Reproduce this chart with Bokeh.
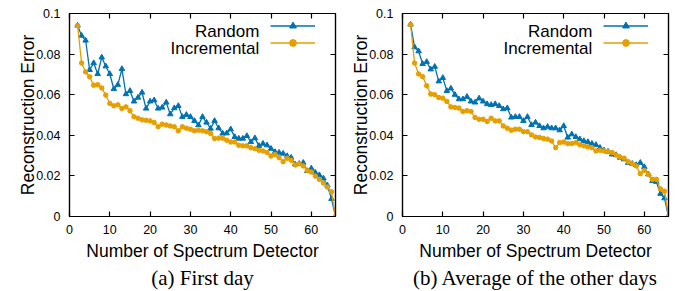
from bokeh.plotting import figure
from bokeh.layouts import row
from bokeh.models import (LinearAxis, FixedTicker, CustomJSTickFormatter, Range1d,
                          Legend, LegendItem, Label, Title)
from bokeh.embed import file_html
from bokeh.resources import INLINE

# ---------------- data ----------------
detectors = list(range(2, 67))

random_first = [0.0941, 0.0891, 0.0867, 0.0722, 0.0756, 0.0702, 0.0784, 0.0740, 0.0702, 0.0628,
                0.0649, 0.0727, 0.0603, 0.0619, 0.0567, 0.0586, 0.0611, 0.0532, 0.0567, 0.0573,
                0.0532, 0.0537, 0.0562, 0.0504, 0.0534, 0.0545, 0.0491, 0.0501, 0.0491, 0.0471,
                0.0450, 0.0491, 0.0463, 0.0433, 0.0471, 0.0435, 0.0409, 0.0410, 0.0430, 0.0392,
                0.0384, 0.0384, 0.0397, 0.0367, 0.0386, 0.0348, 0.0359, 0.0351, 0.0334, 0.0318,
                0.0315, 0.0310, 0.0298, 0.0290, 0.0257, 0.0260, 0.0265, 0.0224, 0.0237, 0.0216,
                0.0204, 0.0188, 0.0153, 0.0087, 0.0]

incremental_first = [0.0941, 0.0756, 0.0712, 0.0688, 0.0647, 0.0649, 0.0633, 0.0598, 0.0557, 0.0545,
                     0.0550, 0.0532, 0.0540, 0.0521, 0.0491, 0.0484, 0.0476, 0.0474, 0.0471, 0.0463,
                     0.0442, 0.0455, 0.0451, 0.0446, 0.0442, 0.0422, 0.0442, 0.0435, 0.0430, 0.0422,
                     0.0425, 0.0422, 0.0418, 0.0409, 0.0384, 0.0386, 0.0386, 0.0376, 0.0367, 0.0367,
                     0.0351, 0.0348, 0.0348, 0.0339, 0.0334, 0.0326, 0.0323, 0.0315, 0.0298, 0.0306,
                     0.0290, 0.0270, 0.0287, 0.0277, 0.0254, 0.0260, 0.0249, 0.0227, 0.0219, 0.0199,
                     0.0183, 0.0165, 0.0145, 0.0122, 0.0]

random_avg = [0.0946, 0.0834, 0.0814, 0.0752, 0.0762, 0.0725, 0.0738, 0.0666, 0.0683, 0.0619,
              0.0631, 0.0600, 0.0578, 0.0578, 0.0590, 0.0567, 0.0562, 0.0582, 0.0567, 0.0554,
              0.0550, 0.0554, 0.0545, 0.0529, 0.0534, 0.0488, 0.0491, 0.0491, 0.0471, 0.0491,
              0.0451, 0.0463, 0.0446, 0.0435, 0.0442, 0.0435, 0.0435, 0.0425, 0.0446, 0.0389,
              0.0405, 0.0392, 0.0381, 0.0372, 0.0367, 0.0359, 0.0353, 0.0339, 0.0326, 0.0320,
              0.0306, 0.0303, 0.0290, 0.0282, 0.0265, 0.0260, 0.0254, 0.0265, 0.0244, 0.0208,
              0.0175, 0.0171, 0.0112, 0.0090, 0.0]

incremental_avg = [0.0946, 0.0756, 0.0702, 0.0689, 0.0644, 0.0603, 0.0600, 0.0586, 0.0583, 0.0567,
                   0.0540, 0.0537, 0.0534, 0.0517, 0.0521, 0.0517, 0.0488, 0.0479, 0.0479, 0.0468,
                   0.0484, 0.0471, 0.0471, 0.0446, 0.0435, 0.0425, 0.0430, 0.0430, 0.0418, 0.0418,
                   0.0402, 0.0392, 0.0389, 0.0384, 0.0381, 0.0372, 0.0339, 0.0364, 0.0367, 0.0359,
                   0.0359, 0.0364, 0.0353, 0.0348, 0.0343, 0.0339, 0.0323, 0.0326, 0.0323, 0.0320,
                   0.0315, 0.0303, 0.0293, 0.0287, 0.0270, 0.0260, 0.0249, 0.0211, 0.0227, 0.0208,
                   0.0183, 0.0183, 0.0136, 0.0125, 0.0]

x_ticks = [0, 10, 20, 30, 40, 50, 60]
y_ticks = [0, 0.02, 0.04, 0.06, 0.08, 0.1]
series_names = ["Random", "Incremental"]
captions = ["(a) First day", "(b) Average of the other days"]
x_label = "Number of Spectrum Detector"
y_label = "Reconstruction Error"

# ---------------- style ----------------
BLUE = "#0072b2"
ORANGE = "#e69f00"
SANS = "Liberation Sans"
SERIF = "Liberation Serif"
FMT = "return String(Math.round(tick * 1000) / 1000);"
FRAME_W = 266


def make_axis(ticks, labelled, label=None, label_standoff=0, tick_standoff=9):
    kw = dict(ticker=FixedTicker(ticks=ticks), major_tick_in=5, major_tick_out=0,
              minor_tick_in=0, minor_tick_out=0, axis_line_color="black",
              axis_line_width=1.2, major_tick_line_color="black", major_tick_line_width=1.2)
    if labelled:
        kw.update(formatter=CustomJSTickFormatter(code=FMT),
                  major_label_text_font=SANS, major_label_text_font_size="12.5px",
                  major_label_text_color="black", major_label_standoff=tick_standoff)
    else:
        kw.update(formatter=CustomJSTickFormatter(code="return '';"),
                  major_label_text_font_size="0px", major_label_standoff=0)
    ax = LinearAxis(**kw)
    if label:
        ax.axis_label = label
        ax.axis_label_text_font = SANS
        ax.axis_label_text_font_size = "17.5px"
        ax.axis_label_text_font_style = "normal"
        ax.axis_label_text_color = "black"
        ax.axis_label_standoff = label_standoff
    return ax


def build(rand, incr, caption, border_left, border_right):
    p = figure(width=border_left + FRAME_W + border_right, height=291,
               output_backend="svg", toolbar_location=None,
               x_range=Range1d(0, 66), y_range=Range1d(0, 0.1),
               x_axis_location=None, y_axis_location=None,
               min_border_left=border_left, min_border_right=border_right,
               min_border_top=13, min_border_bottom=75)
    p.grid.visible = False
    p.outline_line_color = "black"
    p.outline_line_width = 1.2
    p.background_fill_color = "white"
    p.border_fill_color = "white"

    p.add_layout(make_axis(x_ticks, True, x_label, label_standoff=4, tick_standoff=8), "below")
    p.add_layout(make_axis(x_ticks, False), "above")
    p.add_layout(make_axis(y_ticks, True, y_label, label_standoff=-5, tick_standoff=9), "left")
    p.add_layout(make_axis(y_ticks, False), "right")

    r_line = p.line(detectors, rand, line_color=BLUE, line_width=1.3)
    r_pts = p.scatter(detectors, rand, marker="triangle", size=5.5,
                      fill_color=BLUE, line_color=BLUE)
    i_line = p.line(detectors, incr, line_color=ORANGE, line_width=1.3)
    i_pts = p.scatter(detectors, incr, marker="circle", size=4.5,
                      fill_color=ORANGE, line_color=ORANGE)

    legend = Legend(items=[LegendItem(label=" ", renderers=[r_line, r_pts]),
                           LegendItem(label=" ", renderers=[i_line, i_pts])],
                    location=(201, 165), orientation="vertical",
                    glyph_width=45, glyph_height=17, label_width=0, label_height=17,
                    label_standoff=0, padding=0, spacing=0, margin=0,
                    border_line_color=None, background_fill_alpha=0,
                    label_text_font_size="1px")
    p.add_layout(legend)

    for name, yv in zip(series_names, [0.0911, 0.0826]):
        p.add_layout(Label(x=47.1, y=yv, text=name, text_align="right",
                           text_baseline="alphabetic", text_font=SANS,
                           text_font_size="17px", text_color="black"))

    p.add_layout(Title(text=caption, align="center", text_font=SERIF,
                       text_font_size="21px", text_font_style="normal",
                       text_color="black", standoff=1), "below")
    return p


p1 = build(random_first, incremental_first, captions[0], 69, 4)
p2 = build(random_avg, incremental_avg, captions[1], 63, 10)
layout = row(p1, p2)

open("out.html", "w").write(file_html(layout, INLINE))
